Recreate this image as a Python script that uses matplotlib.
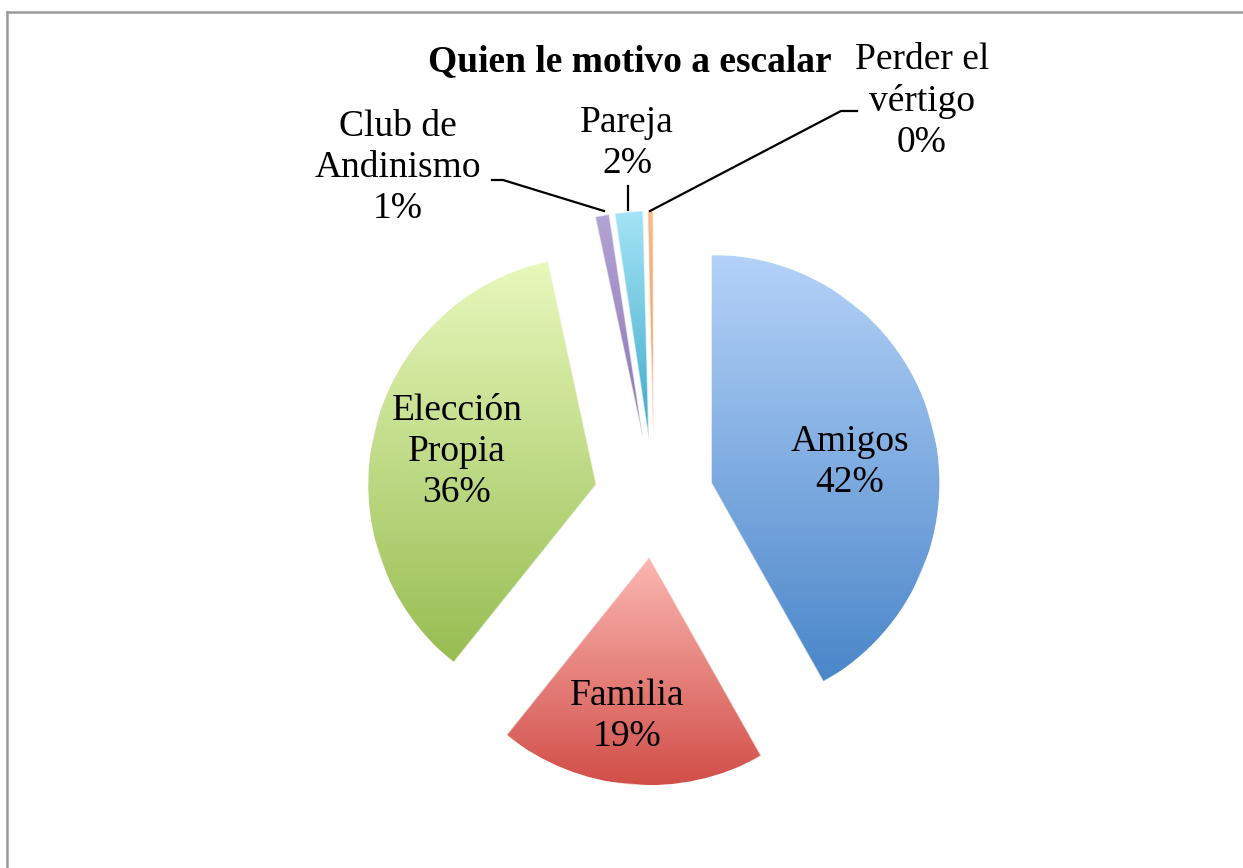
import numpy as np
import matplotlib
matplotlib.use("Agg")
import matplotlib.pyplot as plt
from matplotlib.colors import LinearSegmentedColormap
from matplotlib.lines import Line2D

# ---- data ----
categories = ["Amigos", "Familia", "Elección\nPropia", "Club de\nAndinismo", "Pareja", "Perder el\nvértigo"]
values = [42, 19, 36, 1, 2, 0.4]
title = "Quien le motivo a escalar"

# gradient colours (top, bottom) per slice
top_colors = ["#b4d2f8", "#fbb7b2", "#e8f8bc", "#b3a4d4", "#a4e4f6", "#f6bd8c"]
bot_colors = ["#4a86c9", "#d14d47", "#98bd52", "#8a74b4", "#3fa8c8", "#e9904a"]

W, H = 1243, 868
fig = plt.figure(figsize=(W / 100, H / 100), dpi=100)
fig.patch.set_facecolor("white")

# pie axes: centre (654, 498) px from top, radius 228 px
R_PX = 228
L = 1.6
size = 2 * L * R_PX
cx, cy = 654, H - 498
ax = fig.add_axes([(cx - size / 2) / W, (cy - size / 2) / H, size / W, size / H])

wedges, _ = ax.pie(values, startangle=90, counterclock=False,
                   explode=[0.26] * len(values), radius=1.0,
                   wedgeprops=dict(linewidth=0.8, edgecolor="white"))
ax.set_xlim(-L, L)
ax.set_ylim(-L, L)
ax.set_aspect("equal")
ax.axis("off")

for w, ct, cb in zip(wedges, top_colors, bot_colors):
    cmap = LinearSegmentedColormap.from_list("g", [cb, ct])
    path = w.get_path().transformed(w.get_patch_transform())
    verts = path.vertices
    x0, x1 = verts[:, 0].min(), verts[:, 0].max()
    y0, y1 = verts[:, 1].min(), verts[:, 1].max()
    grad = np.linspace(0, 1, 256).reshape(-1, 1)
    im = ax.imshow(grad, cmap=cmap, origin="lower", extent=[x0, x1, y0, y1],
                   aspect="auto", zorder=w.get_zorder() + 0.1, interpolation="bicubic")
    im.set_clip_path(w)
    w.set_facecolor(cb)
    w2 = plt.Polygon(verts, closed=True, fill=False, edgecolor=(1, 1, 1, 0.6),
                     linewidth=1.0, zorder=w.get_zorder() + 0.2)
    ax.add_patch(w2)

ax.set_xlim(-L, L)
ax.set_ylim(-L, L)

total = sum(values)
pct = [f"{round(v / total * 100):.0f}%" for v in values]

font = dict(family="Liberation Serif", fontsize=27, color="black")

def px(x, y):
    return x / W, 1 - y / H

# labels (figure pixel positions)
label_pos = [(850, 462), (627, 716), (457, 452), (398, 168), (627, 143), (922, 101)]
for cat, p, (x, y) in zip(categories, pct, label_pos):
    fx, fy = px(x, y)
    fig.text(fx, fy, f"{cat}\n{p}", ha="center", va="center",
             linespacing=1.25, **font)

# leader lines
leaders = [
    [(492, 180), (503, 180), (604, 211)],
    [(628, 186), (628, 210)],
    [(857, 111), (841, 111), (650, 211)],
]
for pts in leaders:
    xs = [p[0] / W for p in pts]
    ys = [1 - p[1] / H for p in pts]
    fig.add_artist(Line2D(xs, ys, color="black", linewidth=1.6))

# title
fx, fy = px(630, 62)
fig.text(fx, fy, title, ha="center", va="center", family="Liberation Serif",
         fontsize=27, fontweight="bold")

# chart border (top and left visible)
fig.add_artist(Line2D([7 / W, 7 / W], [0, 1 - 12 / H], color="#9a9a9a", linewidth=1.8))
fig.add_artist(Line2D([7 / W, 1], [1 - 12 / H, 1 - 12 / H], color="#9a9a9a", linewidth=1.8))

fig.savefig("out.png", dpi=100)
